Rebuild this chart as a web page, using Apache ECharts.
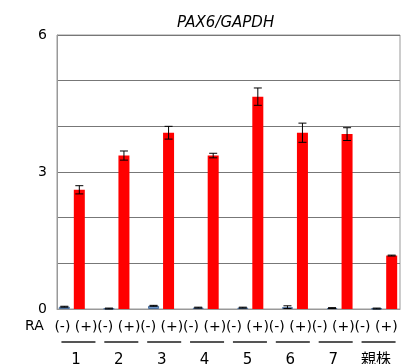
<!DOCTYPE html>
<html><head><meta charset="utf-8">
<script src="https://cdn.jsdelivr.net/npm/echarts@6/dist/echarts.min.js"></script>
<style>html,body{margin:0;padding:0;background:#fff}#c{width:406px;height:364px}</style>
</head><body><div id="c"></div>
<script>
const categories = ['1','2','3','4','5','6','7','親株'];
const yTicks = [0, 3, 6];
const minusValues = [0.05, 0.01, 0.07, 0.03, 0.03, 0.04, 0.02, 0.01];
const minusErr = [0.01, 0.01, 0.01, 0.01, 0.01, 0.03, 0.01, 0.01];
const plusValues = [2.61, 3.36, 3.86, 3.36, 4.65, 3.86, 3.83, 1.17];
const plusErr = [0.09, 0.10, 0.14, 0.05, 0.19, 0.21, 0.14, 0.01];

const FONT = '"DejaVu Sans", "Noto Sans CJK JP", sans-serif';
const BW = 11, GAP = 4;
const chart = echarts.init(document.getElementById('c'));

function errItem(values, errs, sign) {
  return function (params, api) {
    const i = api.value(0);
    const v = values[i], e = errs[i];
    const c = api.coord([i, v]);
    const x = c[0] + sign * (BW + GAP) / 2;
    const top = api.coord([i, v + e])[1];
    const bot = api.coord([i, v - e])[1];
    const st = { stroke: '#000', lineWidth: 1 };
    return { type: 'group', children: [
      { type: 'line', shape: { x1: x, y1: top, x2: x, y2: bot }, style: st },
      { type: 'line', shape: { x1: x - 4, y1: top, x2: x + 4, y2: top }, style: st },
      { type: 'line', shape: { x1: x - 4, y1: bot, x2: x + 4, y2: bot }, style: st }
    ]};
  };
}

chart.setOption({
  animation: false,
  title: { text: 'PAX6/GAPDH', left: 172, top: 11,
    textStyle: { fontFamily: FONT, fontStyle: 'italic', fontWeight: 'normal', fontSize: 15, color: '#000' } },
  graphic: [{ type: 'text', left: 25, top: 319,
    style: { text: 'RA', fontFamily: FONT, fontSize: 14, fill: '#000' } }],
  grid: [
    { left: 57, width: 343, top: 35, bottom: 55, show: true, borderColor: '#999', borderWidth: 1,
      backgroundColor: 'transparent', containLabel: false, outerBoundsMode: 'none' },
    { left: 49.5, width: 357, top: 35, bottom: 55, containLabel: false, outerBoundsMode: 'none' }
  ],
  xAxis: [
    { type: 'category', gridIndex: 0, data: categories,
      axisLine: { lineStyle: { color: '#999' } }, axisTick: { show: false },
      axisLabel: { margin: 10, interval: 0, fontFamily: FONT, color: '#000',
        formatter: v => '{a|(-) (+)}\n{u| }\n{n|' + v + '}',
        rich: {
          a: { fontSize: 14, lineHeight: 17, fontFamily: FONT, color: '#000', padding: [0, 5, 0, 0] },
          u: { width: 34, height: 2, lineHeight: 12, backgroundColor: '#555', fontSize: 2 },
          n: { fontSize: 15, lineHeight: 24, fontFamily: FONT, color: '#000', padding: [0, 5, 0, 0] }
        } } },
    { type: 'category', gridIndex: 1, data: categories, show: false }
  ],
  yAxis: [
    { type: 'value', gridIndex: 0, min: 0, max: 6, interval: 1,
      axisLine: { show: true, lineStyle: { color: '#999' } }, axisTick: { show: false },
      splitLine: { lineStyle: { color: '#777', width: 1 } },
      axisLabel: { margin: 10, fontFamily: FONT, fontSize: 14, color: '#000',
        formatter: v => yTicks.includes(v) ? String(v) : '' } },
    { type: 'value', gridIndex: 1, min: 0, max: 6, interval: 1, show: false, splitLine: { show: false } }
  ],
  series: [
    { type: 'bar', xAxisIndex: 1, yAxisIndex: 1, data: minusValues, barWidth: BW, barGap: (GAP / BW * 100) + '%',
      itemStyle: { color: '#6b93c7', borderColor: '#4a6f9e', borderWidth: 1 } },
    { type: 'bar', xAxisIndex: 1, yAxisIndex: 1, data: plusValues, barWidth: BW,
      itemStyle: { color: '#ff0000' } },
    { type: 'custom', xAxisIndex: 1, yAxisIndex: 1, data: categories.map((c, i) => [i]),
      renderItem: errItem(minusValues, minusErr, -1), z: 5 },
    { type: 'custom', xAxisIndex: 1, yAxisIndex: 1, data: categories.map((c, i) => [i]),
      renderItem: errItem(plusValues, plusErr, 1), z: 5 }
  ]
});
</script></body></html>
